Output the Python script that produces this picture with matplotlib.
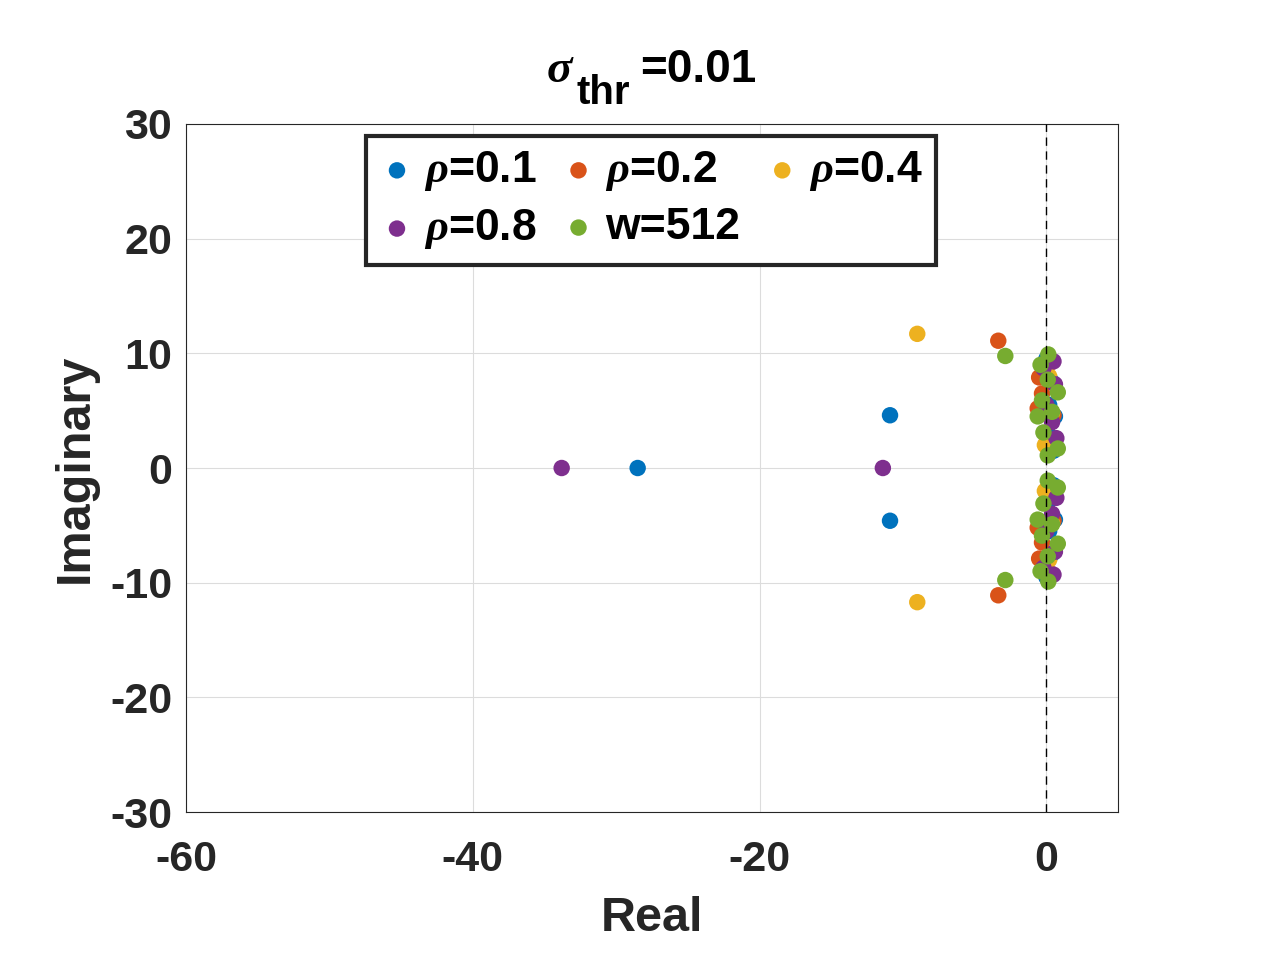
import matplotlib
matplotlib.use("Agg")
import matplotlib.pyplot as plt

plt.rcParams['font.family'] = ['Liberation Sans', 'DejaVu Sans']
plt.rcParams['font.weight'] = 'bold'
plt.rcParams['axes.unicode_minus'] = False
plt.rcParams['mathtext.fontset'] = 'custom'
plt.rcParams['mathtext.rm'] = 'Liberation Sans:bold'
plt.rcParams['mathtext.bf'] = 'Liberation Sans:bold'
plt.rcParams['mathtext.it'] = 'Liberation Serif:italic'

# eigenvalues (real, imag), upper half; conjugates added below
rho01_re = [-28.5, -10.9, 0.0, 0.4, 0.2, 0.6, 0.1, -0.2, 0.5]
rho01_im = [0.0, 4.6, 9.5, 7.5, 5.5, 4.5, 3.0, 8.5, 1.5]
rho02_re = [-3.35, -0.5, -0.6, 0.3, 0.5, 0.1, -0.3]
rho02_im = [11.1, 7.9, 5.2, 9.2, 4.6, 2.5, 6.5]
rho04_re = [-9.0, 0.2, 0.4, -0.1]
rho04_im = [11.7, 8.0, 4.8, 2.0]
rho08_re = [-33.8, -11.4, 0.5, 0.6, 0.0, 0.7, 0.4, -0.2]
rho08_im = [0.0, 0.0, 9.3, 7.3, 5.5, 2.6, 4.0, 8.7]
w512_re = [-2.86, 0.14, -0.4, 0.1, 0.8, -0.3, 0.4, -0.6, -0.2, 0.8, 0.1]
w512_im = [9.77, 9.9, 9.0, 7.7, 6.6, 5.9, 4.9, 4.5, 3.1, 1.7, 1.1]

def conj(re, im):
    xs, ys = list(re), list(im)
    for a, b in zip(re, im):
        if b != 0:
            xs.append(a)
            ys.append(-b)
    return xs, ys

series = [
    (rho01_re, rho01_im, '#0072BD', r'$\it{\rho}$=0.1'),
    (rho02_re, rho02_im, '#D95319', r'$\it{\rho}$=0.2'),
    (rho04_re, rho04_im, '#EDB120', r'$\it{\rho}$=0.4'),
    (rho08_re, rho08_im, '#7E2F8E', r'$\it{\rho}$=0.8'),
    (w512_re, w512_im, '#77AC30', 'w=512'),
]

fig = plt.figure(figsize=(12.61, 9.74), dpi=100)
ax = fig.add_axes([0.1475, 0.1663, 0.7391, 0.7064])

handles = []
for re, im, c, lab in series:
    xs, ys = conj(re, im)
    h = ax.scatter(xs, ys, s=140, color=c, label=lab, zorder=3, edgecolors='none')
    handles.append(h)

ax.axvline(0, color='k', linestyle='--', linewidth=1, dashes=(6, 4), zorder=4)

ax.set_xlim(-60, 5)
ax.set_ylim(-30, 30)
ax.set_xticks([-60, -40, -20, 0])
ax.set_yticks([-30, -20, -10, 0, 10, 20, 30])
ax.grid(True, color='#dcdcdc', linewidth=0.8)
ax.set_axisbelow(True)
ax.tick_params(labelsize=31, length=0, labelcolor='#262626')
ax.tick_params(axis='x', pad=20)
ax.tick_params(axis='y', pad=10)
for sp in ax.spines.values():
    sp.set_linewidth(0.8)
    sp.set_color('#262626')

ax.set_xlabel('Real', fontsize=35, fontweight='bold', labelpad=12, color='#262626')
ax.set_ylabel('Imaginary', fontsize=35, fontweight='bold', labelpad=9, color='#262626')

# title: sigma with a large subscript, MATLAB style
fig.text(0.433, 0.9158, r'$\it{\sigma}$', fontsize=34)
fig.text(0.4568, 0.8932, 'thr', fontsize=29, fontweight='bold')
fig.text(0.5075, 0.9158, '=0.01', fontsize=33, fontweight='bold')

# row-major order for a 3-column legend
order = [0, 3, 1, 4, 2]
leg = ax.legend([handles[i] for i in order], [series[i][3] for i in order],
                ncol=3, loc='upper left', bbox_to_anchor=(0.193, 0.983),
                fontsize=32, frameon=True, fancybox=False, framealpha=1,
                handletextpad=0.2, columnspacing=0.55, borderpad=0.3,
                labelspacing=0.32, handlelength=0.8, borderaxespad=0)
leg.get_frame().set_edgecolor('#262626')
leg.get_frame().set_linewidth(3)

fig.savefig('out.png', dpi=100)
